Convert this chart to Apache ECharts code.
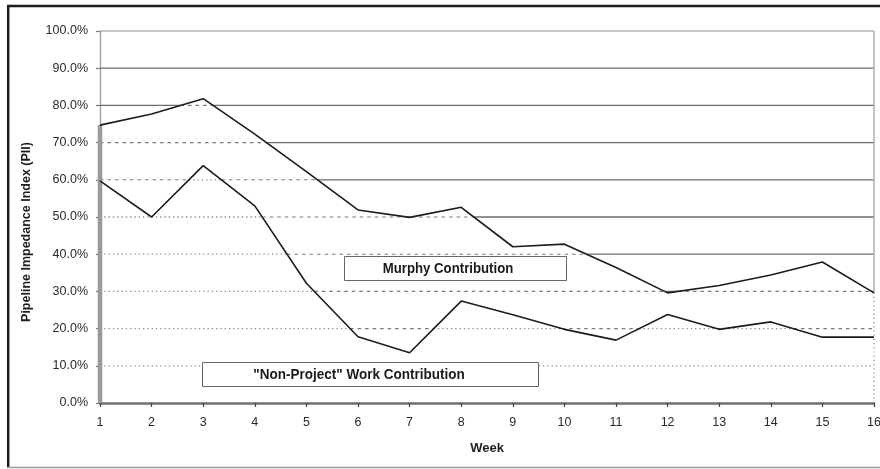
<!DOCTYPE html>
<html>
<head>
<meta charset="utf-8">
<script src="https://cdn.jsdelivr.net/npm/echarts@6/dist/echarts.min.js"></script>
<style>
  html, body { margin: 0; padding: 0; background: #fff; }
  #chart { width: 880px; height: 469px; }
</style>
</head>
<body>
<div id="chart"></div>
<script>
// Weekly Pipeline Impedance Index, split into its two contributions
const weeks = [1, 2, 3, 4, 5, 6, 7, 8, 9, 10, 11, 12, 13, 14, 15, 16];
const murphy = [74.7, 77.7, 81.8, 72.3, 62.2, 51.9, 49.9, 52.6, 42.0, 42.7, 36.4, 29.6, 31.6, 34.4, 37.9, 29.6];
const nonProject = [59.7, 50.0, 63.8, 53.0, 32.2, 17.8, 13.5, 27.4, 23.7, 19.8, 16.9, 23.8, 19.8, 21.8, 17.7, 17.7];
const yTicks = [0, 10, 20, 30, 40, 50, 60, 70, 80, 90, 100];
const seriesNames = ['Murphy Contribution', '"Non-Project" Work Contribution'];
const xTitle = 'Week';
const yTitle = 'Pipeline Impedance Index (PII)';

const FONT = '"Liberation Sans", Arial, sans-serif';

// Gridline style depends on the band it crosses: above the Murphy line,
// between the two lines, or beneath the non-project line.
const bandStyle = {
  solid: { stroke: '#6c6c6c', lineWidth: 1.3 },
  dash:  { stroke: '#7a7a7a', lineWidth: 1.1, lineDash: [3.5, 4] },
  dot:   { stroke: '#8a8a8a', lineWidth: 1.3, lineDash: [1.3, 3] }
};

function bandPieces(v) {
  const pieces = [];
  for (let i = 0; i < weeks.length - 1; i++) {
    const ts = [0, 1];
    [murphy, nonProject].forEach(function (arr) {
      const a = arr[i], b = arr[i + 1];
      if ((a - v) * (b - v) < 0) ts.push((v - a) / (b - a));
    });
    ts.sort(function (p, q) { return p - q; });
    for (let k = 0; k < ts.length - 1; k++) {
      const t0 = ts[k], t1 = ts[k + 1];
      if (t1 - t0 < 1e-9) continue;
      const tm = (t0 + t1) / 2;
      const m = murphy[i] + (murphy[i + 1] - murphy[i]) * tm;
      const l = nonProject[i] + (nonProject[i + 1] - nonProject[i]) * tm;
      const kind = v >= m ? 'solid' : (v >= l ? 'dash' : 'dot');
      const span = weeks[i + 1] - weeks[i];
      const x0 = weeks[i] + t0 * span, x1 = weeks[i] + t1 * span;
      const last = pieces[pieces.length - 1];
      if (last && last.kind === kind && Math.abs(last.x1 - x0) < 1e-9) last.x1 = x1;
      else pieces.push({ x0: x0, x1: x1, kind: kind });
    }
  }
  return pieces;
}

function renderGrid(params, api) {
  const v = api.value(1);
  const children = bandPieces(v).map(function (p) {
    const a = api.coord([p.x0, v]);
    const b = api.coord([p.x1, v]);
    const st = Object.assign({}, bandStyle[p.kind]);
    if (v === yTicks[yTicks.length - 1]) st.stroke = '#b4b4b4';
    return { type: 'line', shape: { x1: a[0], y1: a[1], x2: b[0], y2: b[1] }, style: st };
  });
  return { type: 'group', children: children };
}

// Left and right edges of the plotted band
function renderEdges(params, api) {
  const first = weeks[0], last = weeks[weeks.length - 1];
  const top = yTicks[yTicks.length - 1];
  const l0 = api.coord([first, 0]), l1 = api.coord([first, murphy[0]]);
  const r0 = api.coord([last, 0]), r1 = api.coord([last, murphy[murphy.length - 1]]), r2 = api.coord([last, top]);
  return {
    type: 'group',
    children: [
      { type: 'line', shape: { x1: l0[0], y1: l0[1], x2: l1[0], y2: l1[1] }, style: { stroke: '#9a9a9a', lineWidth: 4.5 } },
      { type: 'line', shape: { x1: r1[0], y1: r1[1], x2: r2[0], y2: r2[1] }, style: { stroke: '#aaaaaa', lineWidth: 1.4 } },
      { type: 'line', shape: { x1: r0[0], y1: r0[1], x2: r1[0], y2: r1[1] }, style: { stroke: '#8a8a8a', lineWidth: 1.2, lineDash: [1.2, 3] } }
    ]
  };
}

const chart = echarts.init(document.getElementById('chart'), null, { renderer: 'canvas' });

chart.setOption({
  animation: false,
  backgroundColor: '#ffffff',
  grid: { left: 100, right: 6, top: 31, bottom: 66, containLabel: false, outerBoundsMode: 'none' },
  xAxis: {
    type: 'value',
    min: weeks[0],
    max: weeks[weeks.length - 1],
    interval: 1,
    name: xTitle,
    nameLocation: 'middle',
    nameGap: 39,
    nameTextStyle: { fontFamily: FONT, fontSize: 13, fontWeight: 'bold', color: '#1e1e1e' },
    axisLine: { show: true, onZero: false, lineStyle: { color: '#707070', width: 2.5 } },
    axisTick: { show: true, length: 4, lineStyle: { color: '#444', width: 1.2 } },
    axisLabel: { fontFamily: FONT, fontSize: 12.5, color: '#2a2a2a', margin: 13, formatter: function (v) { return String(v); } },
    splitLine: { show: false }
  },
  yAxis: {
    type: 'value',
    min: yTicks[0],
    max: yTicks[yTicks.length - 1],
    interval: 10,
    axisLine: { show: true, lineStyle: { color: '#a0a0a0', width: 1.4 } },
    axisTick: { show: true, length: 4, lineStyle: { color: '#777', width: 1.2 } },
    axisLabel: { fontFamily: FONT, fontSize: 12.5, color: '#2a2a2a', margin: 12, formatter: function (v) { return v.toFixed(1) + '%'; } },
    splitLine: { show: false }
  },
  series: [
    {
      type: 'custom',
      name: 'gridlines',
      renderItem: renderGrid,
      data: yTicks.filter(function (v) { return v > 0; }).map(function (v) { return [weeks[0], v]; }),
      silent: true,
      z: 1
    },
    {
      type: 'custom',
      name: 'edges',
      renderItem: renderEdges,
      data: [[weeks[0], 0]],
      silent: true,
      z: 2
    },
    {
      type: 'line',
      name: seriesNames[0],
      data: weeks.map(function (w, i) { return [w, murphy[i]]; }),
      showSymbol: false,
      lineStyle: { color: '#1c1c1c', width: 1.6 },
      z: 5
    },
    {
      type: 'line',
      name: seriesNames[1],
      data: weeks.map(function (w, i) { return [w, nonProject[i]]; }),
      showSymbol: false,
      lineStyle: { color: '#1c1c1c', width: 1.6 },
      z: 5
    }
  ],
  graphic: [
    // outer frame
    { type: 'line', shape: { x1: 7, y1: 6, x2: 880, y2: 6 }, style: { stroke: '#1e1e1e', lineWidth: 2.5 }, z: 100 },
    { type: 'line', shape: { x1: 8.2, y1: 5, x2: 8.2, y2: 468 }, style: { stroke: '#1e1e1e', lineWidth: 2.5 }, z: 100 },
    { type: 'line', shape: { x1: 7, y1: 467.5, x2: 880, y2: 467.5 }, style: { stroke: '#9a9a9a', lineWidth: 1.5 }, z: 100 },
    // y-axis title
    {
      type: 'text', x: 27, y: 232, rotation: Math.PI / 2, z: 100,
      style: { text: yTitle, font: 'bold 12.5px ' + FONT, fill: '#1e1e1e', align: 'center', verticalAlign: 'middle' }
    },
    // series call-out boxes
    { type: 'rect', shape: { x: 344.5, y: 256.5, width: 222, height: 24 }, style: { fill: '#fff', stroke: '#666', lineWidth: 1 }, z: 100 },
    {
      type: 'text', x: 448, y: 269, scaleX: 0.88, z: 101,
      style: { text: seriesNames[0], font: 'bold 15px ' + FONT, fill: '#1a1a1a', align: 'center', verticalAlign: 'middle' }
    },
    { type: 'rect', shape: { x: 202.5, y: 362.5, width: 336, height: 24 }, style: { fill: '#fff', stroke: '#666', lineWidth: 1 }, z: 100 },
    {
      type: 'text', x: 359, y: 375, scaleX: 0.9, z: 101,
      style: { text: seriesNames[1], font: 'bold 15px ' + FONT, fill: '#1a1a1a', align: 'center', verticalAlign: 'middle' }
    }
  ]
});
</script>
</body>
</html>
